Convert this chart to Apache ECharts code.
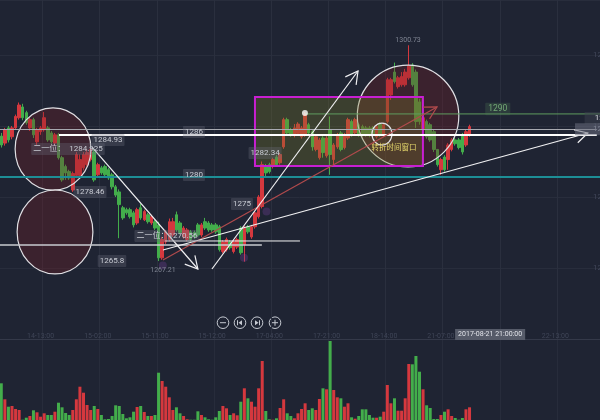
<!DOCTYPE html>
<html><head><meta charset="utf-8">
<style>html,body{margin:0;padding:0;background:#1f2433}#c{width:600px;height:420px}</style>
<script src="https://cdn.jsdelivr.net/npm/echarts@6/dist/echarts.min.js"></script>
</head><body><div id="c"></div>
<script>
const opens=[1286.4,1285.3,1287.7,1286.3,1287.7,1289.3,1291.0,1290.1,1287.7,1289.0,1285.5,1287.1,1287.4,1287.7,1286.9,1285.3,1286.6,1283.0,1281.6,1280.8,1277.9,1280.2,1280.2,1281.4,1281.9,1282.7,1283.9,1280.3,1281.4,1281.6,1281.1,1280.3,1278.4,1277.6,1275.1,1274.8,1274.8,1274.3,1272.7,1275.1,1273.2,1274.0,1272.7,1272.9,1272.4,1267.2,1269.7,1270.1,1270.8,1274.0,1272.7,1270.5,1270.1,1271.3,1271.2,1272.4,1270.8,1272.9,1272.7,1272.4,1272.4,1272.1,1268.2,1268.5,1269.7,1268.2,1268.9,1271.9,1269.3,1272.1,1270.5,1272.1,1273.7,1275.3,1281.6,1281.9,1281.6,1283.1,1282.2,1284.7,1289.0,1287.4,1286.5,1286.8,1286.3,1286.6,1288.2,1287.1,1284.3,1283.0,1286.1,1283.3,1287.4,1282.7,1284.7,1286.9,1284.6,1286.1,1288.7,1286.9,1288.2,1287.9,1287.7,1287.7,1287.7,1286.3,1288.3,1286.6,1288.7,1292.9,1296.5,1294.2,1294.5,1294.5,1295.6,1297.6,1296.5,1291.8,1287.4,1288.7,1288.2,1287.1,1284.3,1281.1,1283.1,1282.7,1284.3,1285.8,1285.8,1286.6,1285.0,1286.6];
const closes=[1285.0,1287.4,1285.8,1287.7,1289.5,1291.3,1289.3,1288.5,1289.0,1286.6,1287.4,1287.7,1289.3,1285.8,1285.5,1286.6,1283.0,1279.5,1280.6,1279.8,1280.5,1283.5,1282.7,1283.5,1283.8,1284.3,1279.5,1281.9,1280.6,1280.3,1279.8,1278.4,1277.1,1275.6,1273.5,1274.3,1273.7,1272.4,1274.8,1273.5,1274.5,1272.9,1273.7,1271.9,1267.2,1270.1,1271.3,1272.9,1272.9,1271.6,1271.2,1271.9,1271.6,1270.1,1270.5,1270.8,1272.4,1271.9,1271.6,1271.6,1271.3,1268.5,1269.7,1270.1,1268.8,1269.7,1270.1,1268.0,1271.9,1271.3,1272.1,1274.3,1276.8,1281.9,1280.6,1280.8,1282.7,1281.9,1283.5,1289.0,1286.9,1286.6,1287.7,1288.3,1287.7,1289.8,1286.9,1284.7,1286.3,1285.8,1283.8,1286.1,1283.5,1285.0,1286.6,1284.3,1286.6,1289.0,1286.6,1289.0,1286.6,1286.6,1286.6,1286.5,1286.5,1287.9,1286.6,1288.2,1295.3,1295.3,1295.0,1295.6,1295.8,1296.5,1297.5,1294.5,1288.7,1288.7,1289.3,1286.3,1285.8,1284.3,1281.9,1282.7,1281.1,1285.0,1285.8,1285.2,1284.6,1283.9,1287.1,1287.9];
const lows=[1284.6,1284.9,1285.4,1285.9,1287.4,1289.0,1288.9,1288.2,1287.2,1286.1,1285.0,1286.6,1287.1,1285.5,1285.2,1284.9,1282.7,1279.2,1279.5,1279.5,1277.6,1279.8,1279.8,1281.0,1281.6,1282.4,1279.2,1280.0,1280.3,1280.0,1279.5,1278.0,1276.8,1270.3,1273.2,1274.0,1273.4,1272.0,1272.4,1273.2,1273.0,1272.6,1272.4,1271.6,1266.7,1266.9,1269.4,1269.8,1270.5,1271.3,1270.9,1270.2,1269.8,1269.8,1270.2,1270.5,1270.5,1271.6,1271.3,1271.3,1271.0,1268.2,1267.9,1268.2,1268.5,1267.9,1268.6,1267.7,1266.6,1271.0,1270.2,1271.8,1273.4,1275.0,1280.0,1280.5,1281.3,1281.6,1281.9,1284.4,1286.6,1286.3,1286.2,1286.5,1286.0,1286.3,1286.6,1284.1,1284.0,1282.7,1283.0,1283.0,1280.3,1281.6,1284.4,1284.0,1284.3,1285.8,1286.3,1286.6,1286.3,1286.3,1286.3,1286.2,1286.2,1286.0,1286.3,1286.3,1288.4,1292.1,1294.7,1293.9,1294.2,1294.2,1295.3,1294.2,1287.7,1288.2,1287.1,1286.0,1285.5,1283.9,1281.6,1280.3,1280.8,1281.1,1284.0,1284.9,1284.3,1283.5,1284.7,1286.3];
const highs=[1286.9,1287.7,1288.0,1288.0,1289.8,1291.7,1291.5,1290.4,1289.3,1289.3,1287.7,1288.0,1290.2,1288.0,1287.2,1286.9,1286.9,1283.3,1281.9,1281.1,1280.8,1283.9,1283.5,1283.9,1284.3,1284.6,1284.3,1282.2,1281.7,1281.9,1281.4,1280.6,1278.7,1278.0,1275.4,1275.1,1275.1,1274.6,1275.1,1275.7,1274.8,1274.3,1274.0,1273.2,1272.9,1270.5,1271.6,1273.4,1273.5,1274.5,1273.0,1272.2,1271.9,1271.6,1271.5,1272.7,1272.7,1273.5,1273.0,1272.7,1272.7,1272.4,1270.0,1270.4,1270.0,1270.0,1270.4,1272.2,1272.2,1272.4,1272.4,1274.6,1277.1,1282.4,1282.0,1282.2,1283.0,1283.4,1283.8,1289.3,1289.3,1287.7,1288.3,1288.6,1288.0,1290.2,1288.5,1287.4,1286.6,1286.1,1286.4,1286.4,1289.5,1285.3,1286.9,1287.2,1286.9,1289.3,1289.0,1289.3,1288.5,1288.2,1288.0,1288.0,1288.0,1288.2,1288.6,1288.5,1295.6,1295.6,1298.0,1295.9,1296.5,1297.0,1300.73,1297.9,1296.9,1292.3,1289.6,1289.0,1288.5,1287.4,1284.3,1283.0,1283.4,1285.3,1286.1,1286.1,1286.1,1286.9,1287.4,1288.2];
const volumes=[3670,2070,1330,1400,1100,1000,30,230,400,970,770,330,670,500,500,830,1730,1270,700,500,1000,2070,3330,2730,1500,1000,1400,1100,500,70,100,400,1470,1400,600,170,270,830,1300,1400,800,400,400,500,4730,3900,3330,2270,1000,1270,670,400,70,30,30,870,500,270,70,30,270,900,1400,1170,500,670,470,1830,3170,2170,1830,1330,3170,5900,900,70,30,170,1200,2070,670,400,170,670,1100,1670,1000,1170,1000,2100,3170,3070,7900,3000,2270,2170,1330,1670,270,130,400,1070,1070,500,230,230,330,830,3500,1670,2170,930,930,2170,5600,5570,6400,4830,3070,1470,1200,100,100,500,830,1070,400,200,30,200,1070,1270];
const slotCount=168;
const tickLabels=['14-13:00','15-02:00','15-11:00','15-12:00','17-04:00','17-21:00','18-14:00','21-07:00','2017-08-21 21:00:00','22-13:00'];
const priceMin=1254.4, priceMax=1307.87, priceStep=11.2;

// annotations in bar-index / price terms
const plainSegments=[[-0.36,1287.44,166.6,1287.44],[16.14,1286.58,166.6,1286.58],[-0.36,1279.95,167.5,1279.95],[84.95,1289.9,167.5,1289.9],[-0.36,1269.23,72.9,1269.23],[45.8,1269.86,83.56,1269.86]];
const whiteArrows=[[25.4,1284.68,55.0,1265.44],[58.94,1265.44,99.8,1296.67],[45.23,1268.44,164.1,1286.89]];
const redArrows=[[45.23,1266.86,121.9,1291.0]];
const zoneBox=[[70.97,1292.57,117.96,1281.69]];
const filledRings=[[14.47,1284.37,10.6,6.5],[15.03,1271.28,10.6,6.62],[113.8,1289.57,14.2,8.04]];
const emptyRings=[[106.5,1286.73,2.8,1.73]];
const startDot=[[84.95,1290.05]];
const pinMarks=[[74.2,1274.5],[67.9,1267.2],[45.2,1266.0]];
const boxNotes=[['1286',53.9,1287.05],['1280',53.9,1280.27],['1284.93',29.85,1285.79],['二一位：  1284.925',18.66,1284.37],['1278.46',24.8,1277.59],['二一位：1270.56',46.35,1270.65],['1265.8',30.97,1266.7],['1275',67.33,1275.69],['1282.34',73.8,1283.74]];
const greenNotes=[['1290',138.9,1290.68]];
const dimNotes=[['1267.21',45.23,1265.28],['1300.73',113.8,1301.56]];
const yellowNotes=[['转折时间窗口',109.85,1284.68]];
const edgeNotes=[['1289.96',163.2,1289.26],['1287.44',160.5,1287.5]];

const RED='#d5383e', GREEN='#43ad4b';
const FONT="Roboto,'Noto Sans CJK SC',sans-serif";
const categories=opens.map((_,i)=>String(i));
while(categories.length<slotCount) categories.push(String(categories.length));
const candles=opens.map((o,i)=>[o,closes[i],lows[i],highs[i]]);
const volumeBars=volumes.map((v,i)=>({value:v,itemStyle:{color:closes[i]>=opens[i]?RED:GREEN}}));

const isLabelSlot=i=>i>=11&&(i-11)%16===0;
const isLineSlot=i=>i>=12&&(i-12)%16===0;

function segSeries(data,styles,z){
  return {type:'custom',xAxisIndex:1,yAxisIndex:0,silent:true,z:z,clip:false,data:data,encode:{x:[0,2],y:[1,3]},
    renderItem(p,api){
      const a=api.coord([api.value(0),api.value(1)]),b=api.coord([api.value(2),api.value(3)]);
      return {type:'line',shape:{x1:a[0],y1:a[1],x2:b[0],y2:b[1]},style:{stroke:styles[p.dataIndex].c,lineWidth:styles[p.dataIndex].w,fill:null}};
    }};
}
function arrowSeries(data,color,w,z){
  return {type:'custom',xAxisIndex:1,yAxisIndex:0,silent:true,z:z,clip:false,data:data,encode:{x:[0,2],y:[1,3]},
    renderItem(p,api){
      const a=api.coord([api.value(0),api.value(1)]),b=api.coord([api.value(2),api.value(3)]);
      const ang=Math.atan2(b[1]-a[1],b[0]-a[0]),L=14,s=0.5;
      const h1=[b[0]-L*Math.cos(ang-s),b[1]-L*Math.sin(ang-s)],h2=[b[0]-L*Math.cos(ang+s),b[1]-L*Math.sin(ang+s)];
      return {type:'group',children:[
        {type:'line',shape:{x1:a[0],y1:a[1],x2:b[0],y2:b[1]},style:{stroke:color,lineWidth:w,fill:null}},
        {type:'polyline',shape:{points:[h1,b,h2]},style:{stroke:color,lineWidth:w,fill:null}}]};
    }};
}
function ringSeries(data,fill,z){
  return {type:'custom',xAxisIndex:1,yAxisIndex:0,silent:true,z:z,clip:false,data:data,encode:{x:0,y:1},
    renderItem(p,api){
      const c=api.coord([api.value(0),api.value(1)]),s=api.size([api.value(2),api.value(3)]);
      return {type:'ellipse',shape:{cx:c[0],cy:c[1],rx:s[0],ry:s[1]},style:{fill:fill,stroke:'#e0e0e4',lineWidth:1.2}};
    }};
}
function noteSeries(data,st,z){
  return {type:'custom',xAxisIndex:1,yAxisIndex:0,silent:true,z:z,clip:false,data:data.map(d=>[d[1],d[2]]),encode:{x:0,y:1},
    renderItem(p,api){
      const c=api.coord([api.value(0),api.value(1)]);
      return {type:'text',style:Object.assign({text:data[p.dataIndex][0],x:c[0],y:c[1],align:'center',verticalAlign:'middle'},st)};
    }};
}

const chart=echarts.init(document.getElementById('c'),null,{renderer:'canvas'});
const buttonIcons=[
  [{type:'rect',shape:{x:-3,y:-0.5,width:6,height:1}}],
  [{type:'rect',shape:{x:-3,y:-2.5,width:1,height:5}},{type:'polygon',shape:{points:[[2,-2.5],[2,2.5],[-1.5,0]]}}],
  [{type:'rect',shape:{x:2,y:-2.5,width:1,height:5}},{type:'polygon',shape:{points:[[-2,-2.5],[-2,2.5],[1.5,0]]}}],
  [{type:'rect',shape:{x:-3,y:-0.5,width:6,height:1}},{type:'rect',shape:{x:-0.5,y:-3,width:1,height:6}}]
];
const buttonX=[223,240,257,275];
chart.setOption({
  animation:false,
  backgroundColor:'#1f2433',
  grid:[{left:-0.5,right:0,top:0,height:339,outerBoundsMode:'none'},{left:-0.5,right:0,top:340,height:80,outerBoundsMode:'none'}],
  xAxis:[
    {type:'category',gridIndex:0,data:categories,boundaryGap:true,
     axisLine:{show:true,lineStyle:{color:'#343949',width:1}},axisTick:{show:false},
     splitLine:{show:true,interval:(i)=>isLineSlot(i),lineStyle:{color:'#2a2f3e',width:1}},
     axisLabel:{inside:true,margin:-1,interval:(i)=>isLabelSlot(i),fontSize:7,color:'#3f4557',fontFamily:FONT,
       formatter:(v,i)=>{const t=tickLabels[(i-11)/16]; return t.length>10?'{sel|'+t+'}{sp|}':t;},
       rich:{sel:{backgroundColor:'#565b69',color:'#e2e4ea',padding:[2,3,2,3],fontSize:7,fontFamily:FONT},sp:{width:16}}}},
    {type:'value',gridIndex:0,min:-0.5,max:slotCount-0.5,show:false},
    {type:'category',gridIndex:1,data:categories,boundaryGap:true,
     axisLine:{show:false},axisTick:{show:false},axisLabel:{show:false},
     splitLine:{show:true,interval:(i)=>isLineSlot(i),lineStyle:{color:'#272c3b',width:1}}}
  ],
  yAxis:[
    {type:'value',gridIndex:0,position:'right',offset:-8,min:priceMin,max:priceMax,interval:priceStep,
     axisLine:{show:false},axisTick:{show:false},
     splitLine:{show:true,lineStyle:{color:'#282d3c',width:1}},
     axisLabel:{margin:1,fontSize:8,color:'#41475a',fontFamily:FONT,showMaxLabel:false,showMinLabel:false,formatter:v=>v.toFixed(2)}},
    {type:'value',gridIndex:1,min:0,max:8000,show:false}
  ],
  series:[
    {type:'candlestick',xAxisIndex:0,yAxisIndex:0,data:candles,barWidth:3,z:3,silent:true,
     itemStyle:{color:RED,color0:GREEN,borderColor:RED,borderColor0:GREEN,borderWidth:1}},
    {type:'bar',xAxisIndex:2,yAxisIndex:1,data:volumeBars,barWidth:3,silent:true},
    ringSeries(filledRings,'rgba(125,30,35,0.30)',4),
    {type:'custom',xAxisIndex:1,yAxisIndex:0,silent:true,z:4,clip:false,data:zoneBox,encode:{x:[0,2],y:[1,3]},
     renderItem(p,api){
       const a=api.coord([api.value(0),api.value(1)]),b=api.coord([api.value(2),api.value(3)]);
       return {type:'rect',shape:{x:a[0],y:a[1],width:b[0]-a[0],height:b[1]-a[1]},style:{fill:'rgba(125,125,40,0.30)',stroke:'#c81fd2',lineWidth:2}};
     }},
    ringSeries(emptyRings,'rgba(0,0,0,0)',5),
    segSeries(plainSegments,[{c:'#a9abb2',w:1},{c:'#ffffff',w:2},{c:'#1d8e96',w:2},{c:'#5f9c5e',w:1},{c:'#c9cbd0',w:1.5},{c:'#f2f2f2',w:1}],6),
    arrowSeries(redArrows,'#b04a4c',1.2,6),
    arrowSeries(whiteArrows,'#f0f0f2',1.2,7),
    {type:'scatter',xAxisIndex:1,yAxisIndex:0,silent:true,z:5,data:pinMarks,symbolSize:8,itemStyle:{color:'rgba(125,65,165,0.38)'}},
    {type:'scatter',xAxisIndex:1,yAxisIndex:0,silent:true,z:8,data:startDot,symbolSize:6,itemStyle:{color:'#ffffff'}},
    noteSeries(boxNotes,{fill:'#c9ccd4',font:'8px '+FONT,backgroundColor:'rgba(105,110,125,0.32)',padding:[2,2,2,2],borderRadius:1},9),
    noteSeries(greenNotes,{fill:'#72a874',font:'8.5px '+FONT,backgroundColor:'rgba(80,120,85,0.28)',padding:[2,3,2,3],borderRadius:1},9),
    noteSeries(dimNotes,{fill:'#7f8492',font:'7px '+FONT},9),
    noteSeries(yellowNotes,{fill:'#e8da6c',font:"7.5px 'Noto Sans CJK SC',sans-serif"},9),
    {type:'custom',xAxisIndex:1,yAxisIndex:0,silent:true,z:9,clip:false,data:edgeNotes.map(d=>[d[1],d[2]]),encode:{x:0,y:1},
     renderItem(p,api){
       const c=api.coord([api.value(0),api.value(1)]);
       return {type:'text',style:{text:edgeNotes[p.dataIndex][0],x:c[0],y:c[1],align:'left',verticalAlign:'middle',font:'8px '+FONT,
         fill:p.dataIndex===0?'#d8dae0':'#7f8492',backgroundColor:p.dataIndex===0?'rgba(60,64,78,0.5)':'rgba(105,110,125,0.55)',
         padding:p.dataIndex===0?[2,0,2,10]:[2,0,2,18]}};
     }}
  ],
  graphic:buttonX.map((x,k)=>({type:'group',x:x,y:322.7,silent:true,children:[
    {type:'circle',shape:{cx:0,cy:0,r:5.8},style:{fill:'none',stroke:'#c6cad2',lineWidth:1}}
  ].concat(buttonIcons[k].map(s=>Object.assign({},s,{style:{fill:'#c6cad2'}})))}))
});
</script></body></html>
